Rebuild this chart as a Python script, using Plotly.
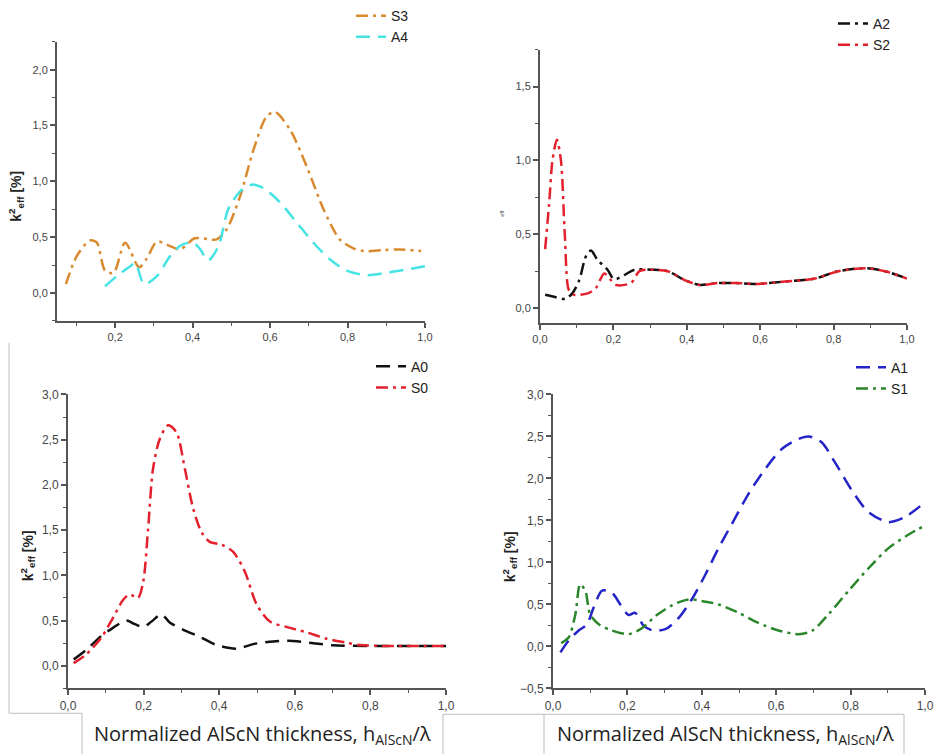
import plotly.graph_objects as go

W, H = 935, 754

# ---------------- data ----------------
s3_x = [0.073, 0.101, 0.135, 0.153, 0.174, 0.196, 0.226, 0.262, 0.282, 0.308, 0.342, 0.368, 0.406,
        0.462, 0.488, 0.523, 0.557, 0.591, 0.613, 0.652, 0.695, 0.738, 0.780, 0.815, 0.845, 0.892, 0.935, 0.990]
s3_y = [0.08, 0.33, 0.47, 0.45, 0.20, 0.18, 0.45, 0.23, 0.31, 0.46, 0.42, 0.39, 0.49,
        0.48, 0.57, 0.87, 1.28, 1.58, 1.62, 1.46, 1.13, 0.75, 0.48, 0.40, 0.375, 0.384, 0.39, 0.375]

a4_x = [0.174, 0.204, 0.239, 0.252, 0.275, 0.308, 0.342, 0.372, 0.402, 0.420, 0.440, 0.467, 0.492,
        0.523, 0.553, 0.583, 0.626, 0.669, 0.712, 0.755, 0.798, 0.850, 0.900, 0.953, 1.000]
a4_y = [0.06, 0.15, 0.24, 0.27, 0.08, 0.15, 0.33, 0.43, 0.45, 0.39, 0.29, 0.42, 0.75,
        0.91, 0.97, 0.94, 0.81, 0.63, 0.45, 0.30, 0.20, 0.16, 0.18, 0.21, 0.24]

a2_x = [0.014, 0.043, 0.068, 0.088, 0.107, 0.125, 0.139, 0.157, 0.184, 0.202, 0.230, 0.257,
        0.303, 0.348, 0.394, 0.435, 0.485, 0.530, 0.594, 0.667, 0.749, 0.813, 0.886, 0.940, 1.000]
a2_y = [0.09, 0.074, 0.063, 0.10, 0.19, 0.35, 0.39, 0.325, 0.26, 0.195, 0.224, 0.26,
        0.26, 0.25, 0.19, 0.157, 0.17, 0.17, 0.164, 0.18, 0.20, 0.25, 0.27, 0.25, 0.20]

s2_x = [0.014, 0.025, 0.034, 0.046, 0.057, 0.068, 0.079, 0.093, 0.130, 0.152, 0.175, 0.193, 0.207,
        0.248, 0.271, 0.303, 0.348, 0.394, 0.435, 0.485, 0.530, 0.594, 0.667, 0.749, 0.813, 0.886, 0.940, 1.000]
s2_y = [0.40, 0.71, 1.00, 1.14, 1.00, 0.48, 0.12, 0.09, 0.10, 0.135, 0.235, 0.19, 0.157,
        0.17, 0.25, 0.26, 0.25, 0.19, 0.157, 0.17, 0.17, 0.164, 0.18, 0.20, 0.25, 0.27, 0.25, 0.20]

a0_x = [0.015, 0.049, 0.088, 0.119, 0.154, 0.177, 0.199, 0.221, 0.247, 0.269, 0.304, 0.349, 0.393,
        0.446, 0.490, 0.543, 0.596, 0.649, 0.700, 0.800, 0.900, 1.000]
a0_y = [0.07, 0.18, 0.33, 0.42, 0.50, 0.46, 0.43, 0.49, 0.57, 0.48, 0.40, 0.32, 0.23,
        0.19, 0.24, 0.27, 0.275, 0.25, 0.227, 0.22, 0.22, 0.22]

s0_x = [0.015, 0.049, 0.088, 0.119, 0.146, 0.163, 0.185, 0.199, 0.212, 0.225, 0.243, 0.265, 0.287,
        0.309, 0.331, 0.353, 0.375, 0.406, 0.437, 0.468, 0.499, 0.534, 0.578, 0.631, 0.684, 0.737,
        0.772, 0.834, 0.900, 1.000]
s0_y = [0.03, 0.13, 0.31, 0.53, 0.73, 0.79, 0.75, 0.93, 1.52, 2.18, 2.51, 2.66, 2.58,
        2.18, 1.74, 1.48, 1.37, 1.34, 1.26, 1.04, 0.68, 0.49, 0.43, 0.37, 0.30, 0.256,
        0.23, 0.22, 0.22, 0.22]

a1_x = [0.020, 0.042, 0.069, 0.091, 0.109, 0.132, 0.158, 0.181, 0.203, 0.221, 0.244, 0.266, 0.302,
        0.338, 0.373, 0.409, 0.445, 0.481, 0.526, 0.570, 0.615, 0.660, 0.687, 0.722, 0.758, 0.803,
        0.848, 0.902, 0.946, 0.987]
a1_y = [-0.07, 0.07, 0.19, 0.26, 0.46, 0.665, 0.64, 0.50, 0.374, 0.40, 0.244, 0.193, 0.205,
        0.34, 0.56, 0.85, 1.17, 1.46, 1.82, 2.11, 2.35, 2.47, 2.50, 2.43, 2.19, 1.86,
        1.60, 1.48, 1.54, 1.67]

s1_x = [0.022, 0.042, 0.060, 0.073, 0.087, 0.100, 0.123, 0.158, 0.203, 0.239, 0.275, 0.320, 0.364,
        0.400, 0.445, 0.499, 0.552, 0.606, 0.660, 0.696, 0.740, 0.794, 0.848, 0.902, 0.955, 1.000]
s1_y = [0.04, 0.106, 0.38, 0.74, 0.66, 0.38, 0.264, 0.19, 0.146, 0.217, 0.36, 0.49, 0.56,
        0.54, 0.50, 0.40, 0.28, 0.19, 0.146, 0.185, 0.38, 0.66, 0.93, 1.17, 1.33, 1.44]

x_title = "Normalized AlScN thickness, h<sub>AlScN</sub>/λ"
y_title = "<b>k<sup>2</sup><sub>eff</sub> [%]</b>"

# ---------------- styling helpers ----------------
DASHDOT = "12px,5px,3px,5px"
DASH = "14px,8px"
LW = 2.5


def px_x(p):
    return p / W


def px_y(p):
    return 1 - p / H


fig = go.Figure()

series = [
    ("S3", s3_x, s3_y, "#d98a2e", DASHDOT, "x", "y", "legend"),
    ("A4", a4_x, a4_y, "#45e3e3", DASH, "x", "y", "legend"),
    ("A2", a2_x, a2_y, "#111111", DASHDOT, "x2", "y2", "legend2"),
    ("S2", s2_x, s2_y, "#e3202c", DASHDOT, "x2", "y2", "legend2"),
    ("A0", a0_x, a0_y, "#111111", DASH, "x3", "y3", "legend3"),
    ("S0", s0_x, s0_y, "#e3202c", DASHDOT, "x3", "y3", "legend3"),
    ("A1", a1_x, a1_y, "#2424c8", DASH, "x4", "y4", "legend4"),
    ("S1", s1_x, s1_y, "#2a862a", DASHDOT, "x4", "y4", "legend4"),
]
for name, xs, ys, col, dash, xa, ya, lg in series:
    fig.add_trace(go.Scatter(
        x=xs, y=ys, name=name, mode="lines", xaxis=xa, yaxis=ya, legend=lg,
        line=dict(color=col, width=LW, dash=dash, shape="spline", smoothing=0.8),
    ))

# panel geometry in pixels: (left, right, top, bottom), x range, y range, tick font size
panels = [
    ((57, 425, 37, 318), [0.05, 1.0], [-0.25, 2.25], 11),
    ((540, 907, 45, 320), [0.0, 1.0], [-0.1, 1.75], 11),
    ((68, 446, 392, 688), [0.0, 1.0], [-0.25, 3.0], 12),
    ((553, 925, 392, 688), [0.0, 1.0], [-0.5, 3.0], 12),
]

layout = dict(
    width=W, height=H, autosize=False,
    margin=dict(l=0, r=0, t=0, b=0),
    paper_bgcolor="white", plot_bgcolor="white",
    separators=",.",
    font=dict(family="Liberation Sans, Arial", color="#333"),
    showlegend=True,
)

for i, ((l, r, t, b), xr, yr, fs) in enumerate(panels, start=1):
    sfx = "" if i == 1 else str(i)
    common = dict(
        showline=True, linecolor="#555", linewidth=2,
        ticks="outside", ticklen=5, tickwidth=1.5, tickcolor="#555",
        showgrid=False, zeroline=False, tickformat=".1f",
        tickfont=dict(size=fs, color="#444", family="Liberation Sans, Arial"),
        fixedrange=True, automargin=False,
    )
    layout["xaxis" + sfx] = dict(
        domain=[px_x(l), px_x(r)], range=xr, anchor="y" + sfx,
        tick0=0, dtick=0.2,
        minor=dict(ticks="outside", ticklen=3, tickwidth=1.2, tickcolor="#555", dtick=0.1, tick0=0),
        **common,
    )
    layout["yaxis" + sfx] = dict(
        domain=[px_y(b), px_y(t)], range=yr, anchor="x" + sfx,
        tick0=0, dtick=0.5,
        minor=dict(ticks="outside", ticklen=3, tickwidth=1.2, tickcolor="#555", dtick=0.25, tick0=0),
        **common,
    )

legend_pos = [(351, -5), (833, 3), (371, 348), (851, 349)]
for i, (lx, ly) in enumerate(legend_pos, start=1):
    key = "legend" if i == 1 else "legend" + str(i)
    layout[key] = dict(
        x=px_x(lx), y=px_y(ly), xanchor="left", yanchor="top",
        bgcolor="rgba(0,0,0,0)", borderwidth=0,
        font=dict(size=14, color="#222", family="Liberation Sans, Arial"),
        itemwidth=30, tracegroupgap=0,
    )

fig.update_layout(**layout)

# y-axis titles
for (cx, cy) in [(16, 193), (28, 555), (510, 555)]:
    fig.add_annotation(
        x=px_x(cx), y=px_y(cy), xref="paper", yref="paper", text=y_title,
        textangle=-90, showarrow=False, font=dict(size=14, color="#222", family="Liberation Sans, Arial"),
        xanchor="center", yanchor="middle",
    )
# remnant label in top-right panel
fig.add_annotation(
    x=px_x(502), y=px_y(205), xref="paper", yref="paper", text="<b>eff</b>",
    textangle=-90, showarrow=False, font=dict(size=5, color="#777"),
)

# x-axis captions
for cx in (262, 725):
    fig.add_annotation(
        x=px_x(cx), y=px_y(734), xref="paper", yref="paper", text=x_title,
        showarrow=False, font=dict(size=20, color="#222", family="Open Sans"),
        xanchor="center", yanchor="middle",
    )

# light frame lines of the composed figure
frame = [
    (9, 340, 9, 713), (9, 713, 82, 713), (82, 713, 82, 754),
    (443, 714, 904, 714), (443, 714, 443, 754), (544, 714, 544, 754), (904, 714, 904, 754),
]
for x0, y0, x1, y1 in frame:
    fig.add_shape(type="line", xref="paper", yref="paper",
                  x0=px_x(x0), y0=px_y(y0), x1=px_x(x1), y1=px_y(y1),
                  line=dict(color="#bdbdbd", width=1))

fig.write_html(
    "out.html",
    config={"displayModeBar": False},
    post_script="document.body.style.margin='0';document.body.style.overflow='hidden';",
)
